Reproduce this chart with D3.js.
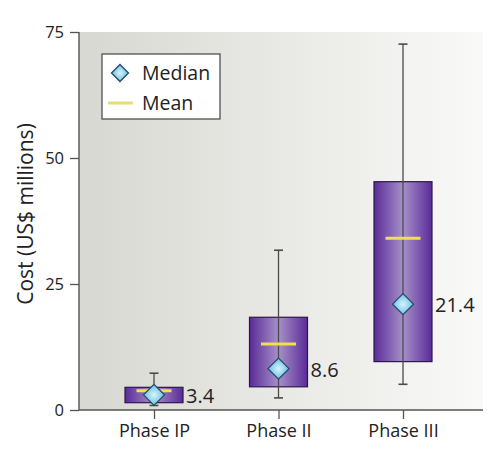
<!DOCTYPE html>
<html>
<head>
<meta charset="utf-8">
<script src="https://cdn.jsdelivr.net/npm/d3@7"></script>
<style>
  body { margin: 0; background: #fff; }
  svg { display: block; font-family: "Open Sans", "Noto Sans", sans-serif; }
</style>
</head>
<body>
<div id="chart"></div>
<script>
// data (US$ millions)
var phases = ['Phase IP', 'Phase II', 'Phase III'];
var whiskerLow = [0.9, 2.4, 5.1];
var boxLow = [1.45, 4.6, 9.6];
var medians = [3.4, 8.6, 21.4];
var means = [3.8, 13.1, 34.1];
var boxHigh = [4.5, 18.4, 45.3];
var whiskerHigh = [7.3, 31.7, 72.6];
var yTicks = [0, 25, 50, 75];

var width = 491, height = 453;
var plot = { left: 79, right: 483, top: 32, bottom: 410 };

var svg = d3.select('#chart').append('svg')
  .attr('width', width)
  .attr('height', height);

var defs = svg.append('defs');

var bg = defs.append('linearGradient').attr('id', 'bg')
  .attr('x1', 0).attr('x2', 1).attr('y1', 0).attr('y2', 0);
bg.append('stop').attr('offset', '0%').attr('stop-color', '#d8d8d2');
bg.append('stop').attr('offset', '100%').attr('stop-color', '#f9f9f8');

var boxGrad = defs.append('linearGradient').attr('id', 'boxGrad')
  .attr('x1', 0).attr('x2', 1).attr('y1', 0).attr('y2', 0);
boxGrad.append('stop').attr('offset', '0%').attr('stop-color', '#5a2b98');
boxGrad.append('stop').attr('offset', '50%').attr('stop-color', '#a690c9');
boxGrad.append('stop').attr('offset', '100%').attr('stop-color', '#5a2b98');

var diaGrad = defs.append('radialGradient').attr('id', 'diaGrad');
diaGrad.append('stop').attr('offset', '0%').attr('stop-color', '#d8f3fb');
diaGrad.append('stop').attr('offset', '100%').attr('stop-color', '#66c0e2');

var x = d3.scalePoint()
  .domain(phases)
  .range([plot.left + 75, plot.right - 80]);

var y = d3.scaleLinear()
  .domain([0, 75])
  .range([plot.bottom, plot.top]);

svg.append('rect')
  .attr('x', plot.left).attr('y', plot.top)
  .attr('width', plot.right - plot.left)
  .attr('height', plot.bottom - plot.top)
  .attr('fill', 'url(#bg)');

// axes
var yAxis = svg.append('g')
  .attr('transform', 'translate(' + plot.left + ',0)')
  .call(d3.axisLeft(y).tickValues(yTicks).tickSize(9).tickPadding(6));
yAxis.select('.domain').remove();
yAxis.append('line')
  .attr('x1', 0).attr('x2', 0)
  .attr('y1', plot.top).attr('y2', plot.bottom)
  .attr('stroke', '#555').attr('stroke-width', 1.4);

var xAxis = svg.append('g')
  .attr('transform', 'translate(0,' + plot.bottom + ')')
  .call(d3.axisBottom(x).tickSize(9).tickPadding(5));
xAxis.select('.domain').remove();
xAxis.append('line')
  .attr('x1', plot.left).attr('x2', plot.right)
  .attr('y1', 0).attr('y2', 0)
  .attr('stroke', '#555').attr('stroke-width', 1.4);

svg.selectAll('.tick line').attr('stroke', '#555').attr('stroke-width', 1.3);
svg.selectAll('.tick text')
  .attr('fill', '#222')
  .style('font-family', '"Open Sans", "Noto Sans", sans-serif');
yAxis.selectAll('.tick text').style('font-size', '16.5px');
xAxis.selectAll('.tick text').style('font-size', '18px');

svg.append('text')
  .attr('transform', 'translate(33,214) rotate(-90)')
  .attr('text-anchor', 'middle')
  .attr('fill', '#222')
  .style('font-size', '21px')
  .text('Cost (US$ millions)');

// boxes
var boxW = 58, capW = 9, meanW = 35, dia = 10.5;

var g = svg.selectAll('.phase')
  .data(phases)
  .enter().append('g')
  .attr('class', 'phase');

g.append('rect')
  .attr('x', function(d) { return x(d) - boxW / 2; })
  .attr('y', function(d, i) { return y(boxHigh[i]); })
  .attr('width', boxW)
  .attr('height', function(d, i) { return y(boxLow[i]) - y(boxHigh[i]); })
  .attr('fill', 'url(#boxGrad)')
  .attr('stroke', '#2c1848')
  .attr('stroke-width', 1.2);

g.append('line')
  .attr('x1', function(d) { return x(d); })
  .attr('x2', function(d) { return x(d); })
  .attr('y1', function(d, i) { return y(whiskerHigh[i]); })
  .attr('y2', function(d, i) { return y(whiskerLow[i]); })
  .attr('stroke', '#4a4a4a')
  .attr('stroke-width', 1.3);

[whiskerHigh, whiskerLow].forEach(function(arr) {
  g.append('line')
    .attr('x1', function(d) { return x(d) - capW / 2; })
    .attr('x2', function(d) { return x(d) + capW / 2; })
    .attr('y1', function(d, i) { return y(arr[i]); })
    .attr('y2', function(d, i) { return y(arr[i]); })
    .attr('stroke', '#4a4a4a')
    .attr('stroke-width', 1.6);
});

g.append('line')
  .attr('x1', function(d) { return x(d) - meanW / 2; })
  .attr('x2', function(d) { return x(d) + meanW / 2; })
  .attr('y1', function(d, i) { return y(means[i]); })
  .attr('y2', function(d, i) { return y(means[i]); })
  .attr('stroke', '#f2e04a')
  .attr('stroke-width', 3);

function diamond(cx, cy, r) {
  return 'M' + cx + ',' + (cy - r) + 'L' + (cx + r) + ',' + cy +
    'L' + cx + ',' + (cy + r) + 'L' + (cx - r) + ',' + cy + 'Z';
}

g.append('path')
  .attr('d', function(d, i) { return diamond(x(d), y(medians[i]) + 2, dia); })
  .attr('fill', 'url(#diaGrad)')
  .attr('stroke', '#27486a')
  .attr('stroke-width', 1.3);

g.append('text')
  .attr('x', function(d) { return x(d) + boxW / 2 + 3; })
  .attr('y', function(d, i) { return y(medians[i]) + 10; })
  .attr('fill', '#222')
  .style('font-size', '20px')
  .text(function(d, i) { return medians[i].toFixed(1); });

// legend
var lg = svg.append('g');
lg.append('rect')
  .attr('x', 102).attr('y', 54)
  .attr('width', 118).attr('height', 65)
  .attr('fill', '#fff')
  .attr('stroke', '#444')
  .attr('stroke-width', 1.2);
lg.append('path')
  .attr('d', diamond(120, 73, 8.5))
  .attr('fill', 'url(#diaGrad)')
  .attr('stroke', '#27486a')
  .attr('stroke-width', 1.3);
lg.append('line')
  .attr('x1', 108).attr('x2', 133)
  .attr('y1', 103).attr('y2', 103)
  .attr('stroke', '#e4dd7a')
  .attr('stroke-width', 3);
lg.append('text').attr('x', 142).attr('y', 80)
  .attr('fill', '#222').style('font-size', '19.5px').text('Median');
lg.append('text').attr('x', 142).attr('y', 110)
  .attr('fill', '#222').style('font-size', '19.5px').text('Mean');
</script>
</body>
</html>
